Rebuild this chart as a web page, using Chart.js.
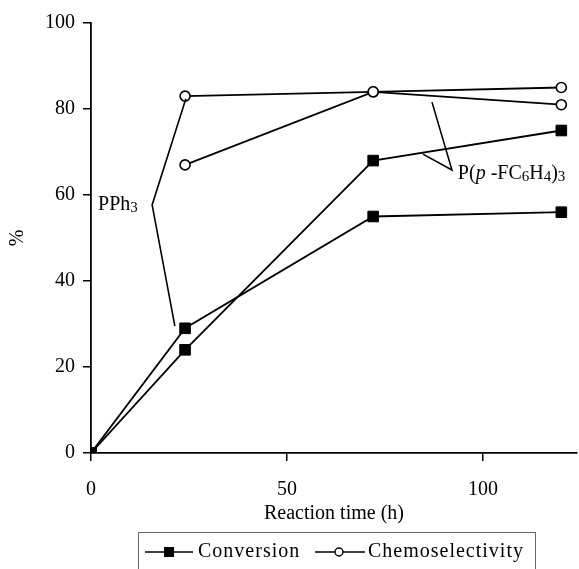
<!DOCTYPE html>
<html>
<head>
<meta charset="utf-8">
<script src="https://cdn.jsdelivr.net/npm/chart.js@4"></script>
<style>
  html, body { margin: 0; padding: 0; background: #fff; }
  #chart { display: block; }
</style>
</head>
<body>
<canvas id="chart" width="579" height="569"></canvas>
<script>
// reaction times (h)
const times = [0, 24, 72, 120];
const chemTimes = [24, 72, 120];

// conversion (%)
const convPPh3 = [0, 29, 55, 56];
const convPF = [0, 24, 68, 75];

// chemoselectivity (%)
const chemPPh3 = [83, 84, 85];
const chemPF = [67, 84, 81];

const yTicks = [0, 20, 40, 60, 80, 100];
const xTicks = [0, 50, 100];
const legendLabels = ['Conversion', 'Chemoselectivity'];

const serif = '"Liberation Serif", "Times New Roman", serif';

function toPoints(xs, ys) {
    return xs.map((x, i) => ({ x: x, y: ys[i] }));
}

function squareSet(label, xs, ys) {
    return {
        label: label,
        data: toPoints(xs, ys),
        borderColor: '#000',
        backgroundColor: '#000',
        borderWidth: 1.8,
        pointStyle: 'rect',
        pointRadius: 7.5,
        pointBorderWidth: 1,
        pointBackgroundColor: '#000',
        pointBorderColor: '#000'
    };
}

function circleSet(label, xs, ys) {
    return {
        label: label,
        data: toPoints(xs, ys),
        borderColor: '#000',
        backgroundColor: '#fff',
        borderWidth: 1.8,
        pointStyle: 'circle',
        pointRadius: 5,
        pointBorderWidth: 1.6,
        pointBackgroundColor: '#fff',
        pointBorderColor: '#000'
    };
}

// draws a run of text pieces [text, size, dy, italic]
function drawRuns(ctx, x, y, runs) {
    runs.forEach(r => {
        ctx.font = (r[3] ? 'italic ' : '') + r[1] + 'px ' + serif;
        ctx.fillText(r[0], x, y + r[2]);
        x += ctx.measureText(r[0]).width;
    });
}

// labels with pointer lines, plus the boxed legend at the bottom
const notesPlugin = {
    id: 'notes',
    afterDatasetsDraw(chart) {
        const ctx = chart.ctx;
        const xs = chart.scales.x, ys = chart.scales.y;
        const px = v => xs.getPixelForValue(v);
        const py = v => ys.getPixelForValue(v);

        ctx.save();
        ctx.strokeStyle = '#000';
        ctx.fillStyle = '#000';
        ctx.lineWidth = 1.6;
        ctx.textBaseline = 'middle';

        // PPh3
        ctx.beginPath();
        ctx.moveTo(px(24.2), py(82.4));
        ctx.lineTo(px(15.6), py(57.7));
        ctx.lineTo(px(21.4), py(29.5));
        ctx.stroke();
        drawRuns(ctx, px(1.8), py(57.7), [['PPh', 20, 0], ['3', 15, 3]]);

        // P(p-FC6H4)3
        ctx.beginPath();
        ctx.moveTo(px(87.0), py(81.6));
        ctx.lineTo(px(92.1), py(65.8));
        ctx.lineTo(px(84.7), py(69.5));
        ctx.stroke();
        drawRuns(ctx, px(93.6), py(64.9), [
            ['P(', 20, 0], ['p', 20, 0, true], [' -FC', 20, 0], ['6', 15, 3],
            ['H', 20, 0], ['4', 15, 3], [')', 20, 0], ['3', 15, 3]
        ]);

        // legend box
        ctx.lineWidth = 1;
        ctx.strokeStyle = '#666';
        ctx.strokeRect(138.5, 532.5, 397, 60);
        ctx.strokeStyle = '#000';
        ctx.lineWidth = 1.6;
        const ly = 552;
        ctx.beginPath();
        ctx.moveTo(145, ly); ctx.lineTo(193, ly);
        ctx.moveTo(315, ly); ctx.lineTo(365, ly);
        ctx.stroke();
        ctx.fillRect(164, ly - 5, 10, 10);
        ctx.beginPath();
        ctx.arc(339, ly, 4, 0, Math.PI * 2);
        ctx.fillStyle = '#fff';
        ctx.fill();
        ctx.lineWidth = 1.4;
        ctx.stroke();
        ctx.fillStyle = '#000';
        ctx.font = '20px ' + serif;
        ctx.letterSpacing = '1px';
        ctx.fillText(legendLabels[0], 198, ly);
        ctx.fillText(legendLabels[1], 368, ly);
        ctx.restore();
    }
};

new Chart(document.getElementById('chart'), {
    type: 'line',
    data: {
        datasets: [
            squareSet('Conversion PPh3', times, convPPh3),
            squareSet('Conversion P(p-FC6H4)3', times, convPF),
            circleSet('Chemoselectivity PPh3', chemTimes, chemPPh3),
            circleSet('Chemoselectivity P(p-FC6H4)3', chemTimes, chemPF)
        ]
    },
    options: {
        responsive: false,
        devicePixelRatio: 1,
        animation: false,
        layout: { autoPadding: false, padding: { left: 0, top: 23, right: 2, bottom: 0 } },
        plugins: {
            legend: { display: false },
            tooltip: { enabled: false }
        },
        elements: { line: { tension: 0 } },
        scales: {
            x: {
                type: 'linear',
                min: 0,
                max: 124,
                afterFit: s => { s.height = 116; },
                afterBuildTicks: s => { s.ticks = xTicks.map(v => ({ value: v })); },
                border: { display: true, color: '#000', width: 1.8 },
                grid: { drawOnChartArea: false, drawTicks: true, tickLength: 8, color: '#000', lineWidth: 1.5 },
                ticks: { color: '#000', padding: 17, maxRotation: 0, font: { family: serif, size: 20 } },
                title: {
                    display: true,
                    text: 'Reaction time (h)',
                    color: '#000',
                    font: { family: serif, size: 20 },
                    padding: { top: 0, bottom: 43 }
                }
            },
            y: {
                min: 0,
                max: 100,
                afterFit: s => { s.width = 91; },
                afterBuildTicks: s => { s.ticks = yTicks.map(v => ({ value: v })); },
                border: { display: true, color: '#000', width: 1.8 },
                grid: { drawOnChartArea: false, drawTicks: true, tickLength: 8, color: '#000', lineWidth: 1.5 },
                ticks: { color: '#000', padding: 8, font: { family: serif, size: 20 } },
                title: {
                    display: true,
                    text: '%',
                    color: '#000',
                    font: { family: serif, size: 20 },
                    padding: { top: 6, bottom: 0 }
                }
            }
        }
    },
    plugins: [notesPlugin]
});
</script>
</body>
</html>
